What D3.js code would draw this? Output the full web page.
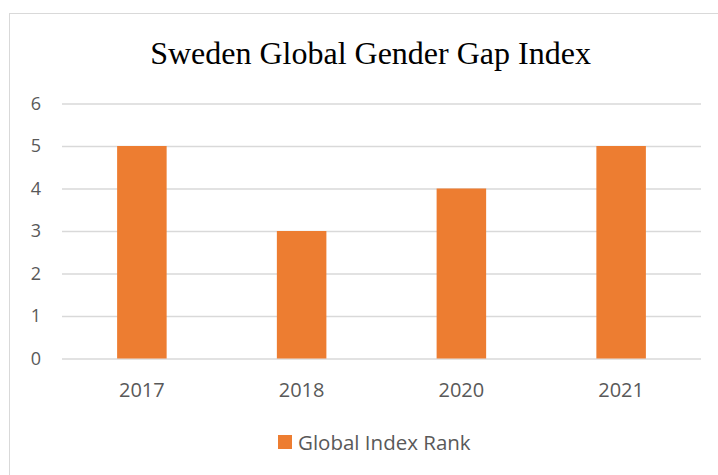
<!DOCTYPE html>
<html>
<head>
<meta charset="utf-8">
<script src="https://cdn.jsdelivr.net/npm/d3@7"></script>
<style>
  body { margin: 0; background: #fff; }
</style>
</head>
<body>
<div id="chart"></div>
<script>
// data
const anios = ['2017', '2018', '2020', '2021'];
const rango = [5, 3, 4, 5];
const ticksY = [0, 1, 2, 3, 4, 5, 6];
const titulo = 'Sweden Global Gender Gap Index';
const serie = 'Global Index Rank';

const w = 718;
const h = 475;
const izq = 62, der = 701, arriba = 103.5, abajo = 358.5;
const naranja = '#ED7D31';
const gris = '#595959';

let svg = d3.select('#chart')
            .append('svg')
            .attr('width', w)
            .attr('height', h)

// marco del grafico
svg.append('rect')
   .attr('x', 9.5)
   .attr('y', 13.5)
   .attr('width', w + 20)
   .attr('height', h + 20)
   .attr('fill', 'none')
   .attr('stroke', '#d9d9d9')

svg.append('text')
   .attr('x', 370.5)
   .attr('y', 64)
   .attr('text-anchor', 'middle')
   .style('font-family', '"Liberation Serif", "Times New Roman", serif')
   .style('font-size', '32px')
   .attr('fill', '#000')
   .text(titulo)

let xScale = d3.scaleBand()
               .domain(anios)
               .range([izq, der])
               .paddingInner(0.69)
               .paddingOuter(0.345)

let yScale = d3.scaleLinear()
               .domain([0, 6])
               .range([abajo, arriba])

let yAxis = d3.axisLeft(yScale)
              .tickValues(ticksY)
              .tickSize(izq - der)
              .tickPadding(21)
              .tickFormat(d3.format('d'))

svg.append('g')
   .attr('id', 'ejeY')
   .attr('transform', 'translate(' + izq + ',0)')
   .call(yAxis)
   .call(g => g.select('.domain').remove())
   .call(g => g.selectAll('line').attr('stroke', '#d9d9d9').attr('stroke-width', 1.5))
   .call(g => g.selectAll('text')
               .attr('fill', gris)
               .style('font-family', '"Open Sans", sans-serif')
               .style('font-size', '18px'))

svg.selectAll('rect.barra')
   .data(rango)
   .enter()
   .append('rect')
   .attr('class', 'barra')
   .attr('x', (d, i) => xScale(anios[i]))
   .attr('y', (d) => yScale(d))
   .attr('width', xScale.bandwidth())
   .attr('height', (d) => abajo - yScale(d))
   .attr('fill', naranja)

let xAxis = d3.axisBottom(xScale)
              .tickSize(0)
              .tickPadding(24)

svg.append('g')
   .attr('id', 'ejeX')
   .attr('transform', 'translate(0,' + abajo + ')')
   .call(xAxis)
   .call(g => g.select('.domain').remove())
   .call(g => g.selectAll('text')
               .attr('fill', gris)
               .style('font-family', '"Open Sans", sans-serif')
               .style('font-size', '20px'))

// leyenda
let leyenda = svg.append('g')
                 .attr('transform', 'translate(278,435)')

leyenda.append('rect')
       .attr('width', 14)
       .attr('height', 14)
       .attr('fill', naranja)

leyenda.append('text')
       .attr('x', 20)
       .attr('y', 15)
       .attr('fill', gris)
       .style('font-family', '"Open Sans", sans-serif')
       .style('font-size', '20.5px')
       .text(serie)
</script>
</body>
</html>
